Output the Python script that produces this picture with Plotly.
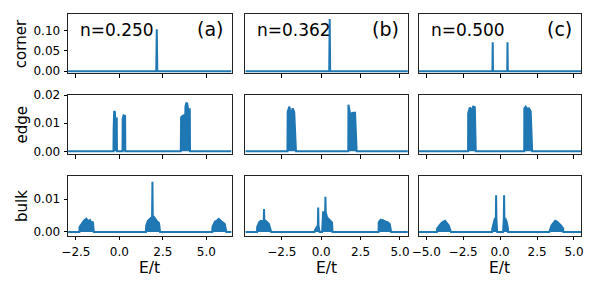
import plotly.graph_objects as go

# ---------------- data ----------------
# column (a) n=0.250
a_corner_E = [-2.95, 2.12, 2.15, 2.18, 6.45]
a_corner_rho = [0, 0, 0.103, 0, 0]
a_edge_E = [-2.95, -0.34, -0.33, -0.30, -0.26, -0.24, -0.15, -0.14,
            0.18, 0.19, 0.24, 0.33, 0.34,
            3.53, 3.55, 3.62, 3.68, 3.72, 3.78, 3.80, 3.85, 3.90, 3.95, 4.05, 4.06, 6.45]
a_edge_rho = [0, 0, 0.0077, 0.0143, 0.0140, 0.0117, 0.0117, 0,
              0, 0.0115, 0.0128, 0.0126, 0,
              0, 0.0121, 0.0125, 0.0127, 0.0114, 0.0114, 0.0160, 0.0173, 0.0170, 0.0151, 0.0150, 0, 0]
a_bulk_E = [-2.95, -2.30, -2.29, -2.13, -2.04, -1.90, -1.79, -1.69, -1.60, -1.52, -1.47,
            1.53, 1.54, 1.64, 1.73, 1.83, 1.88, 1.90, 1.92, 1.98, 2.09, 2.19, 2.28, 2.34,
            5.34, 5.35, 5.49, 5.60, 5.71, 5.83, 5.94, 6.06, 6.15, 6.45]
a_bulk_rho = [0, 0, 0.0015, 0.0029, 0.0034, 0.0040, 0.0032, 0.0036, 0.0027, 0.0031, 0,
              0, 0.0019, 0.0034, 0.0039, 0.0046, 0.0046, 0.0153, 0.0046, 0.0046, 0.0037, 0.0031, 0.0027, 0,
              0, 0.0015, 0.0031, 0.0034, 0.0040, 0.0033, 0.0029, 0.0024, 0, 0]

# column (b) n=0.362
b_corner_E = [-4.81, 0.51, 0.54, 0.57, 5.50]
b_corner_rho = [0, 0, 0.128, 0, 0]
b_edge_E = [-4.81, -2.14, -2.125, -2.02, -1.92, -1.81, -1.71, -1.60,
            1.72, 1.73, 1.83, 1.94, 2.04, 2.15, 2.25, 5.50]
b_edge_rho = [0, 0, 0.0140, 0.0159, 0.0131, 0.0153, 0.0140, 0,
              0, 0.0166, 0.0134, 0.0137, 0.0137, 0.0137, 0, 0]
b_bulk_E = [-4.81, -4.07, -4.06, -3.94, -3.83, -3.73, -3.645, -3.625, -3.605, -3.52, -3.42, -3.31, -3.17,
            -0.42, -0.40, -0.29, -0.21, -0.19, -0.17, -0.10,
            0.06, 0.125, 0.25, 0.27, 0.29, 0.375, 0.48, 0.58, 0.69, 0.72,
            3.64, 3.65, 3.77, 3.92, 4.06, 4.23, 4.35, 4.44, 5.50]
b_bulk_rho = [0, 0, 0.0015, 0.0029, 0.0034, 0.0032, 0.0032, 0.0070, 0.0034, 0.0034, 0.0029, 0.0024, 0,
              0, 0.0005, 0.0015, 0.0020, 0.0074, 0.0020, 0,
              0, 0.0060, 0.0060, 0.0107, 0.0060, 0.0044, 0.0037, 0.0034, 0.0028, 0,
              0, 0.0029, 0.0037, 0.0036, 0.0032, 0.0029, 0.0024, 0, 0]

# column (c) n=0.500
c_corner_E = [-5.50, -0.52, -0.50, -0.48, 0.48, 0.50, 0.52, 5.50]
c_corner_rho = [0, 0, 0.071, 0, 0, 0.071, 0, 0]
c_edge_E = [-5.50, -2.17, -2.16, -2.05, -1.93, -1.82, -1.71, -1.65,
            1.63, 1.64, 1.73, 1.84, 1.95, 2.07, 2.17, 5.50]
c_edge_rho = [0, 0, 0.0136, 0.0156, 0.0145, 0.0159, 0.0157, 0,
              0, 0.0153, 0.0159, 0.0150, 0.0153, 0.0142, 0, 0]
c_bulk_E = [-5.50, -4.28, -4.27, -4.13, -4.00, -3.87, -3.73, -3.60, -3.47, -3.33,
            -0.54, -0.53, -0.45, -0.36, -0.29, -0.27, -0.25, -0.20,
            0.20, 0.25, 0.27, 0.29, 0.36, 0.45, 0.53, 0.54,
            3.33, 3.47, 3.60, 3.73, 3.87, 4.00, 4.13, 4.27, 4.28, 5.50]
c_bulk_rho = [0, 0, 0.0010, 0.0019, 0.0026, 0.0031, 0.0034, 0.0027, 0.0019, 0,
              0, 0.0010, 0.0030, 0.0040, 0.0040, 0.0112, 0.0040, 0,
              0, 0.0040, 0.0112, 0.0040, 0.0040, 0.0030, 0.0010, 0,
              0, 0.0019, 0.0027, 0.0034, 0.0031, 0.0026, 0.0019, 0.0010, 0, 0]

row_names = ["corner", "edge", "bulk"]
col_labels = ["(a)", "(b)", "(c)"]
col_n = ["n=0.250", "n=0.362", "n=0.500"]

panels = [
    [(a_corner_E, a_corner_rho), (b_corner_E, b_corner_rho), (c_corner_E, c_corner_rho)],
    [(a_edge_E, a_edge_rho), (b_edge_E, b_edge_rho), (c_edge_E, c_edge_rho)],
    [(a_bulk_E, a_bulk_rho), (b_bulk_E, b_bulk_rho), (c_bulk_E, c_bulk_rho)],
]

x_ranges = [[-2.95, 6.45], [-4.81, 5.50], [-5.51, 5.49]]
x_ticks = [[-2.5, 0, 2.5, 5.0], [-2.5, 0, 2.5, 5.0], [-5.0, -2.5, 0, 2.5, 5.0]]
y_ranges = [[-0.0045, 0.141], [-0.0011, 0.0200], [-0.0012, 0.0169]]
y_ticks = [[0, 0.05, 0.10], [0, 0.01, 0.02], [0, 0.01]]

# ---------------- layout geometry ----------------
W, H = 598, 282
col_px = [(62, 228), (242, 407), (418, 583)]
row_px = [(7, 69), (92, 154), (177, 239)]

BLUE = "#1f77b4"
FONT = "DejaVu Sans"

fig = go.Figure()
layout = dict(
    width=W, height=H, margin=dict(l=0, r=0, t=0, b=0),
    paper_bgcolor="white", plot_bgcolor="white", showlegend=False,
    font=dict(family=FONT, size=12, color="black"),
)
annotations = []

for r in range(3):
    for c in range(3):
        k = r * 3 + c + 1
        xs = "" if k == 1 else str(k)
        E, rho = panels[r][c]
        fig.add_trace(go.Scatter(
            x=E, y=rho, mode="lines", fill="tozeroy",
            fillcolor=BLUE, line=dict(color=BLUE, width=2),
            xaxis="x" + xs, yaxis="y" + xs, hoverinfo="skip",
        ))
        x0, x1 = col_px[c]
        y0, y1 = row_px[r]
        layout["xaxis" + xs] = dict(
            domain=[x0 / W, x1 / W], anchor="y" + xs, range=x_ranges[c],
            tickvals=x_ticks[c], tickformat=".1f", ticks="outside", ticklen=3.5,
            tickwidth=0.8, tickcolor="black", showticklabels=(r == 2),
            ticklabelstandoff=1,
            showline=True, linecolor="#222", linewidth=1, mirror=True,
            showgrid=False, zeroline=False, tickfont=dict(size=12),
        )
        layout["yaxis" + xs] = dict(
            domain=[1 - y1 / H, 1 - y0 / H], anchor="x" + xs, range=y_ranges[r],
            tickvals=y_ticks[r] if c == 0 else [], tickformat=".2f",
            ticks="outside" if c == 0 else "", ticklen=3.5, tickwidth=0.8,
            tickcolor="black", showticklabels=(c == 0), ticklabelstandoff=1,
            showline=True, linecolor="#222", linewidth=1, mirror=True,
            showgrid=False, zeroline=False, tickfont=dict(size=12),
        )
    # row title
    yc = (row_px[r][0] + row_px[r][1]) / 2
    annotations.append(dict(
        text=row_names[r], x=15 / W, y=1 - yc / H, xref="paper", yref="paper",
        showarrow=False, textangle=-90, font=dict(size=15), xanchor="center", yanchor="middle",
    ))

for c in range(3):
    x0, x1 = col_px[c]
    annotations.append(dict(
        text="E/t", x=(x0 + x1) / 2 / W, y=1 - 273 / H, xref="paper", yref="paper",
        showarrow=False, font=dict(size=15.5), xanchor="center", yanchor="middle",
    ))
    annotations.append(dict(
        text=col_n[c], x=(x0 + 10) / W, y=1 - 24 / H, xref="paper", yref="paper",
        showarrow=False, font=dict(size=17), xanchor="left", yanchor="middle",
    ))
    annotations.append(dict(
        text=col_labels[c], x=(x1 - 7) / W, y=1 - 23 / H, xref="paper", yref="paper",
        showarrow=False, font=dict(size=19), xanchor="right", yanchor="middle",
    ))

layout["annotations"] = annotations
fig.update_layout(**layout)
fig.write_html("out.html", config={"displayModeBar": False},
               post_script="document.body.style.margin='0';")
